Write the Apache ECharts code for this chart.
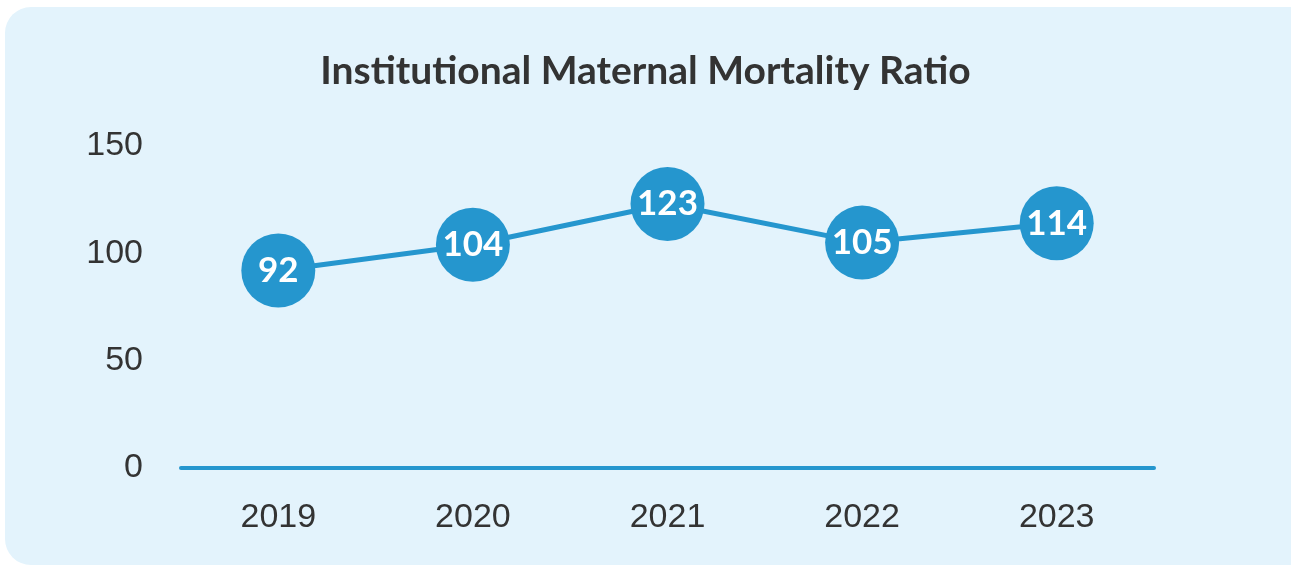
<!DOCTYPE html>
<html>
<head>
<meta charset="utf-8">
<script src="https://cdn.jsdelivr.net/npm/echarts@6/dist/echarts.min.js"></script>
<style>
  html, body { margin: 0; padding: 0; background: #fff; }
  #chart { width: 1291px; height: 566px; }
</style>
</head>
<body>
<div id="chart"></div>
<script>
  var years = ['2019', '2020', '2021', '2022', '2023'];
  var ratio = [92, 104, 123, 105, 114];
  var yTicks = [0, 50, 100, 150];

  var blue = '#2596CE';
  var chart = echarts.init(document.getElementById('chart'));
  var option = {
    animation: false,
    graphic: [{
      type: 'rect',
      z: -10,
      shape: { x: 5, y: 7, width: 1320, height: 558, r: 26 },
      style: { fill: '#E3F3FC' }
    }],
    title: {
      text: 'Institutional Maternal Mortality Ratio',
      left: 'center',
      top: 47,
      textStyle: { fontFamily: 'Lato', fontWeight: 'bold', fontSize: 39, color: '#333333' }
    },
    grid: { left: 181, right: 137, top: 146, bottom: 98 },
    xAxis: {
      type: 'category',
      data: years,
      axisLine: { lineStyle: { color: blue, width: 4 } },
      axisTick: { show: false },
      axisLabel: { color: '#333333', fontSize: 34, fontFamily: 'Liberation Sans', margin: 33 }
    },
    yAxis: {
      type: 'value',
      min: yTicks[0],
      max: yTicks[yTicks.length - 1],
      interval: 50,
      splitLine: { show: false },
      axisLine: { show: false },
      axisTick: { show: false },
      axisLabel: { color: '#333333', fontSize: 34, fontFamily: 'Liberation Sans', margin: 38 }
    },
    series: [{
      type: 'line',
      data: ratio,
      symbol: 'circle',
      symbolSize: 74,
      lineStyle: { color: blue, width: 5 },
      itemStyle: { color: blue },
      label: {
        show: true,
        position: 'inside',
        color: '#ffffff',
        fontFamily: 'Lato',
        fontWeight: 'bold',
        fontSize: 35
      }
    }]
  };
  chart.setOption(option);
</script>
</body>
</html>
